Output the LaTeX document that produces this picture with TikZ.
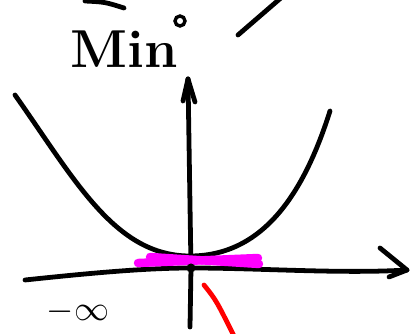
\documentclass[tikz,border=0pt]{standalone}
\usetikzlibrary{arrows.meta}
\definecolor{hilite}{RGB}{255,0,255}
\definecolor{penred}{RGB}{255,0,0}
\tikzset{
  pen/.style={line width=3.4pt, line cap=round, line join=round},
  marker/.style={line width=6pt, line cap=round, hilite},
}
\begin{document}
\begin{tikzpicture}[x=0.025cm,y=-0.025cm]
     \useasboundingbox (0,0) rectangle (410,334);
     % strokes at the top
     \draw[pen] (85,1) .. controls (105,2) .. (124,8);
     \draw[pen] (238,35) -- (282,-3);
     \node[font=\fontsize{38}{38}\selectfont\bfseries, anchor=base] (mintxt) at (124,68) {Min};
     \draw[line width=2.4pt] (180,21) circle [radius=5];
     % axes
     \coordinate (o) at (191,268);
     \coordinate (ytop) at (188,79);
     \coordinate (xend) at (407,270);
     \draw[pen] (190,327) -- (o) -- (ytop);
     \draw[pen] (ytop) -- (183,101);
     \draw[pen] (ytop) -- (195,102);
     \draw[pen] (25,280) .. controls (100,272) and (150,268) .. (o)
                .. controls (260,268) and (340,274) .. (xend);
     \draw[pen] (380,248) -- (xend) -- (389,277);
     % parabola
     \draw[pen] (15,95) .. controls (75,180) and (115,256) .. (190,256)
                .. controls (265,256) and (305,190) .. (330,111);
     % minimum band
     \draw[marker] (138,263) -- (258,258);
     \draw[marker] (150,257) -- (259,264);
     \fill (o) circle [radius=4.5];
     % red branch
     \draw[pen, penred] (204,285) .. controls (216,300) .. (234,336);
     \node[font=\fontsize{34}{34}\selectfont] (minf) at (78,312) {$-\infty$};
\end{tikzpicture}
\end{document}
